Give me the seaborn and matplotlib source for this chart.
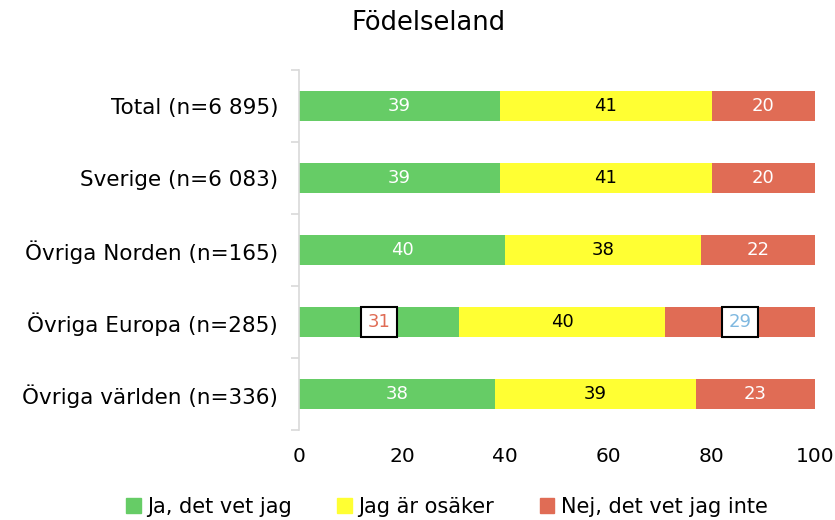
import matplotlib
matplotlib.use("Agg")
import matplotlib.pyplot as plt
import matplotlib.patches as mpatches
import seaborn as sns
import pandas as pd
import numpy as np

categories = ["Total (n=6 895)", "Sverige (n=6 083)", "Övriga Norden (n=165)",
              "Övriga Europa (n=285)", "Övriga världen (n=336)"]
ja = [39, 39, 40, 31, 38]
osaker = [41, 41, 38, 40, 39]
nej = [20, 20, 22, 29, 23]
series_names = ["Ja, det vet jag", "Jag är osäker", "Nej, det vet jag inte"]
colors = ["#66CC66", "#FFFF33", "#E06C55"]
xticks = [0, 20, 40, 60, 80, 100]
title = "Födelseland"

sns.set_theme(style="white")
plt.rcParams['font.family'] = ['DejaVu Sans']

fig = plt.figure(figsize=(8.35, 5.2), dpi=100)
ax = fig.add_axes([0.358, 0.173, 0.618, 0.692])

vals = np.array([ja, osaker, nej], dtype=float)
cum = np.cumsum(vals, axis=0)
df = pd.DataFrame({"cat": categories})

for i in [2, 1, 0]:
    df["v"] = cum[i]
    sns.barplot(data=df, x="v", y="cat", color=colors[i], orient="h",
                width=0.42, ax=ax, saturation=1, edgecolor="none")

label_colors = ["white", "black", "white"]
for j, cat in enumerate(categories):
    left = 0
    for i in range(3):
        v = vals[i, j]
        xc = left + v / 2
        if cat.startswith("Övriga Europa") and i != 1:
            tc = "#E06C55" if i == 0 else "#7FB8E0"
            ax.text(xc, j, f"{int(v)}", ha="center", va="center", fontsize=13,
                    color=tc,
                    bbox=dict(boxstyle="square,pad=0.35", fc="white", ec="black", lw=1.5))
        else:
            ax.text(xc, j, f"{int(v)}", ha="center", va="center", fontsize=13,
                    color=label_colors[i])
        left += v

ax.set_xlim(0, 100)
ax.set_ylim(4.5, -0.5)
ax.set_xticks(xticks)
ax.set_xticklabels([str(t) for t in xticks], fontsize=14.5)
ax.tick_params(axis="x", length=0, pad=12, labelcolor="black")
ax.tick_params(axis="y", which="major", left=False, length=0, pad=15, labelsize=15.5, labelcolor="black")
ax.set_yticks(np.arange(-0.5, 5, 1), minor=True)
ax.tick_params(axis="y", which="minor", left=True, length=6, color="#D9D9D9", width=1.2)
ax.set_xlabel("")
ax.set_ylabel("")
for s in ["top", "right", "bottom"]:
    ax.spines[s].set_visible(False)
ax.spines["left"].set_color("#D9D9D9")
ax.spines["left"].set_linewidth(1.2)
ax.grid(False)

fig.text(0.513, 0.955, title, ha="center", va="center", fontsize=18.5, color="black")

handles = [mpatches.Patch(color=c, label=n) for c, n in zip(colors, series_names)]
leg = fig.legend(handles=handles, loc="center", bbox_to_anchor=(0.535, 0.025), ncol=3,
                 frameon=False, fontsize=15, handlelength=0.7, handleheight=0.7,
                 handletextpad=0.3, columnspacing=2.2)
for t in leg.get_texts():
    t.set_color("black")

fig.savefig("out.png", dpi=100)
